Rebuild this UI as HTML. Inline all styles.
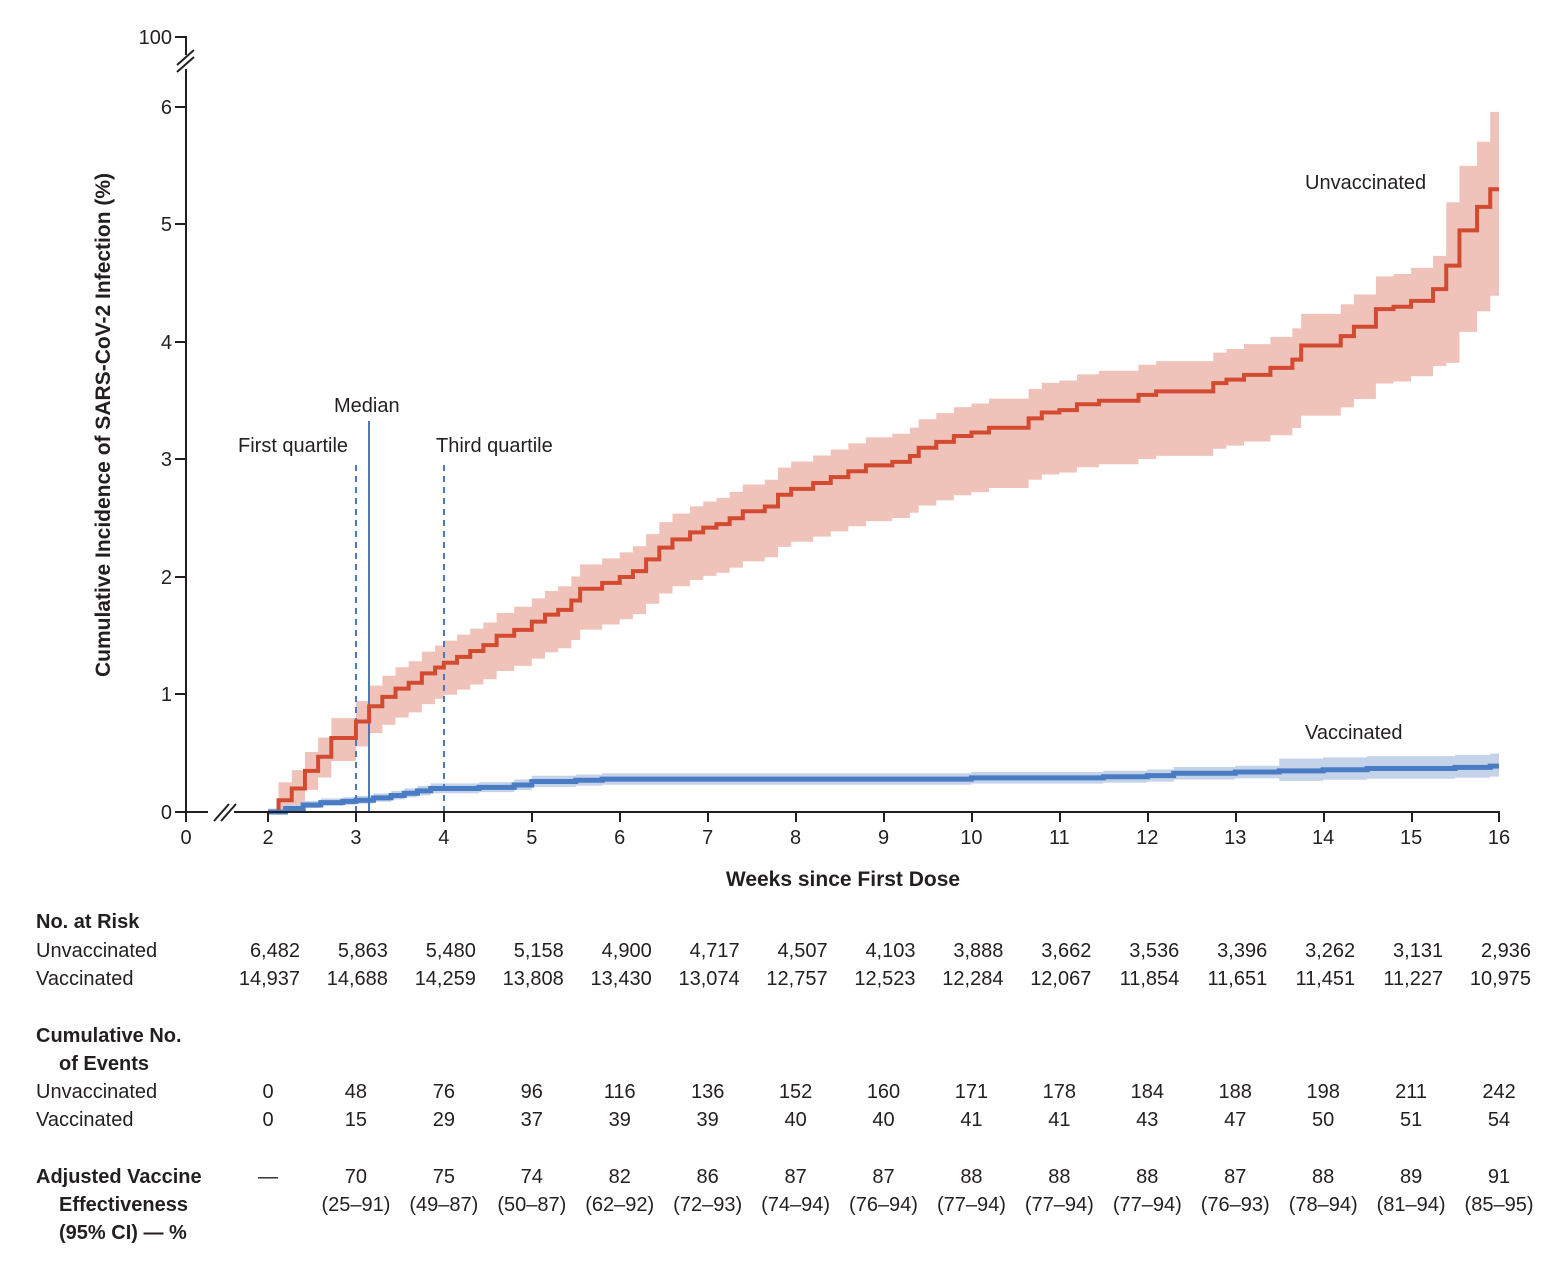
<!DOCTYPE html>
<html><head><meta charset="utf-8"><style>
body{margin:0;background:#fff;}
svg text{font-family:"Liberation Sans",sans-serif;fill:#231f20;}
</style></head><body>
<svg id="s" width="1556" height="1260" viewBox="0 0 1556 1260" xmlns="http://www.w3.org/2000/svg">
<rect width="1556" height="1260" fill="#fff"/>
<g id="plot"></g>
<!-- axes -->
<g stroke="#231f20" stroke-width="2" fill="none">
<path d="M175,37 H186 V812 H1500"/>
<path d="M175,107H186M175,224H186M175,342H186M175,459H186M175,577H186M175,694H186M175,812H186"/>
<path d="M186,812V822M268,812V822M356,812V822M444,812V822M532,812V822M620,812V822M708,812V822M796,812V822M884,812V822M972,812V822M1060,812V822M1148,812V822M1236,812V822M1324,812V822M1412,812V822M1499,812V822"/>
</g>
<rect x="180" y="55" width="12" height="14" fill="#fff"/>
<rect x="208" y="806" width="26" height="12" fill="#fff"/>
<g stroke="#231f20" stroke-width="2">
<line x1="177" y1="65" x2="194" y2="50"/><line x1="177" y1="72" x2="194" y2="57"/>
<line x1="214" y1="821" x2="229" y2="804"/><line x1="221" y1="821" x2="236" y2="804"/>
</g>
<g font-size="20" text-anchor="end">
<text x="172" y="44">100</text><text x="172" y="114">6</text><text x="172" y="231">5</text><text x="172" y="349">4</text><text x="172" y="466">3</text><text x="172" y="584">2</text><text x="172" y="701">1</text><text x="172" y="819">0</text>
</g>
<g font-size="20" text-anchor="middle" id="xt"></g>
<text x="843" y="886" font-size="21" font-weight="bold" text-anchor="middle">Weeks since First Dose</text>
<text transform="translate(110,425) rotate(-90)" font-size="21" font-weight="bold" text-anchor="middle">Cumulative Incidence of SARS-CoV-2 Infection (%)</text>
<g font-size="20">
<text x="1305" y="189">Unvaccinated</text>
<text x="1305" y="739">Vaccinated</text>
<text x="334" y="412">Median</text>
<text x="238" y="452">First quartile</text>
<text x="436" y="452">Third quartile</text>
</g>
<g id="tbl" font-size="20"></g>
</svg>
<script>
var X=function(w){return w<=0?186:268+(w-2)*87.93;};
var Y=function(v){return 812-v*117.5;};
var red=[[2,0],[2.12,0.1],[2.27,0.2],[2.42,0.35],[2.57,0.47],[2.72,0.63],[3.0,0.77],[3.15,0.9],[3.3,0.98],[3.45,1.05],[3.6,1.1],[3.75,1.18],[3.9,1.23],[4.0,1.27],[4.15,1.32],[4.3,1.37],[4.45,1.42],[4.6,1.5],[4.8,1.55],[5.0,1.62],[5.15,1.68],[5.3,1.72],[5.45,1.8],[5.55,1.9],[5.8,1.95],[6.0,2.0],[6.15,2.05],[6.3,2.15],[6.45,2.25],[6.6,2.32],[6.8,2.38],[6.95,2.42],[7.1,2.45],[7.25,2.5],[7.4,2.56],[7.65,2.6],[7.8,2.7],[7.95,2.75],[8.2,2.8],[8.4,2.85],[8.6,2.9],[8.8,2.95],[9.1,2.98],[9.3,3.03],[9.4,3.1],[9.6,3.15],[9.8,3.2],[10.0,3.23],[10.2,3.27],[10.65,3.35],[10.8,3.4],[11.0,3.42],[11.2,3.47],[11.45,3.5],[11.9,3.55],[12.1,3.58],[12.75,3.65],[12.9,3.68],[13.1,3.72],[13.4,3.78],[13.65,3.85],[13.75,3.97],[14.2,4.05],[14.35,4.13],[14.6,4.28],[14.8,4.3],[15.0,4.35],[15.25,4.45],[15.4,4.65],[15.55,4.95],[15.75,5.15],[15.9,5.3],[16,5.3]];
var blue=[[2,0],[2.2,0.03],[2.4,0.06],[2.6,0.08],[2.85,0.09],[3.0,0.1],[3.2,0.12],[3.4,0.14],[3.55,0.16],[3.7,0.18],[3.85,0.2],[4.4,0.21],[4.8,0.23],[5.0,0.26],[5.5,0.27],[5.8,0.28],[8.0,0.28],[9.5,0.28],[10.0,0.29],[11.5,0.3],[12.0,0.31],[12.3,0.33],[13.0,0.34],[13.5,0.35],[14.0,0.36],[14.5,0.37],[15.5,0.38],[15.9,0.39],[16,0.39]];
function step(pts,f){var d='';for(var i=0;i<pts.length;i++){var x=X(pts[i][0]),y=Y(f(pts[i][0],pts[i][1]));if(i==0)d+='M'+x+','+y;else d+='H'+x+'V'+y;}return d+'H'+X(16);}
function band(pts,fu,fl){var up=step(pts,fu);var lo=[];for(var i=pts.length-1;i>=0;i--){var nx=i<pts.length-1?X(pts[i+1][0]):X(16);lo.push('H'+nx+'V'+Y(fl(pts[i][0],pts[i][1])));}
var d=up;for(var i=pts.length-1;i>=0;i--){var x2=i<pts.length-1?X(pts[i+1][0]):X(16);d+='V'+Y(fl(pts[i][0],pts[i][1]))+'H'+X(pts[i][0]);}return d+'Z';}
function ru(w,v){if(v==0)return 0;var e=0.15+0.03*v+(w>15.3?0.25:0)+(w>15.85?0.1:0);return v+e;}
function rl(w,v){if(v==0)return 0;var e=0.12+0.12*v;if(w>15.3)e+=0.15;return Math.max(0,v-e);}
function bu(w,v){return v+0.03+0.07*v+(w>13?0.05:0);}
function bl(w,v){return Math.max(0,v-0.02-0.1*v-(w>13?0.03:0));}
var g=document.getElementById('plot'),ns='http://www.w3.org/2000/svg';
function P(d,a){var p=document.createElementNS(ns,'path');p.setAttribute('d',d);for(var k in a)p.setAttribute(k,a[k]);g.appendChild(p);}
P(band(red,ru,rl),{fill:'#efc3ba'});
P(band(blue,bu,bl),{fill:'#c5d3ea'});
P('M356,812V460',{stroke:'#4a78be','stroke-width':2,'stroke-dasharray':'6,5'});
P('M444,812V460',{stroke:'#4a78be','stroke-width':2,'stroke-dasharray':'6,5'});
P('M369,812V421',{stroke:'#4a78be','stroke-width':2});
P(step(red,function(w,v){return v;}),{stroke:'#d24a30','stroke-width':4,fill:'none'});
P(step(blue,function(w,v){return v;}),{stroke:'#4a7cc4','stroke-width':5,fill:'none'});
var xt=document.getElementById('xt'),h='<text x="186" y="844">0</text>';
for(var w=2;w<=16;w++)h+='<text x="'+X(w)+'" y="844">'+w+'</text>';
xt.innerHTML=h;
var T=document.getElementById('tbl');
var rows=[
['b','No. at Risk',928],
['l','Unvaccinated',957],['l','Vaccinated',985],
['b','Cumulative No.',1042],['b','  of Events',1070],
['l','Unvaccinated',1098],['l','Vaccinated',1126],
['b','Adjusted Vaccine',1183],['b','  Effectiveness',1211],['b','  (95% CI) — %',1239]];
var s='';rows.forEach(function(r){s+='<text x="'+(r[1][0]==' '?59:36)+'" y="'+r[2]+'"'+(r[0]=='b'?' font-weight="bold"':'')+'>'+r[1].trim()+'</text>';});
var data=[
[957,'end',"6,482 5,863 5,480 5,158 4,900 4,717 4,507 4,103 3,888 3,662 3,536 3,396 3,262 3,131 2,936"],
[985,'end',"14,937 14,688 14,259 13,808 13,430 13,074 12,757 12,523 12,284 12,067 11,854 11,651 11,451 11,227 10,975"],
[1098,'middle',"0 48 76 96 116 136 152 160 171 178 184 188 198 211 242"],
[1126,'middle',"0 15 29 37 39 39 40 40 41 41 43 47 50 51 54"],
[1183,'middle',"— 70 75 74 82 86 87 87 88 88 88 87 88 89 91"],
[1211,'middle',"_ (25–91) (49–87) (50–87) (62–92) (72–93) (74–94) (76–94) (77–94) (77–94) (77–94) (76–93) (78–94) (81–94) (85–95)"]];
data.forEach(function(d){var v=d[2].split(' ');v.forEach(function(t,i){if(t=='_')return;var x=X(i+2)+(d[1]=='end'?32:0);s+='<text x="'+x+'" y="'+d[0]+'" text-anchor="'+d[1]+'">'+t+'</text>';});});
T.innerHTML=s;
</script>
</body></html>
